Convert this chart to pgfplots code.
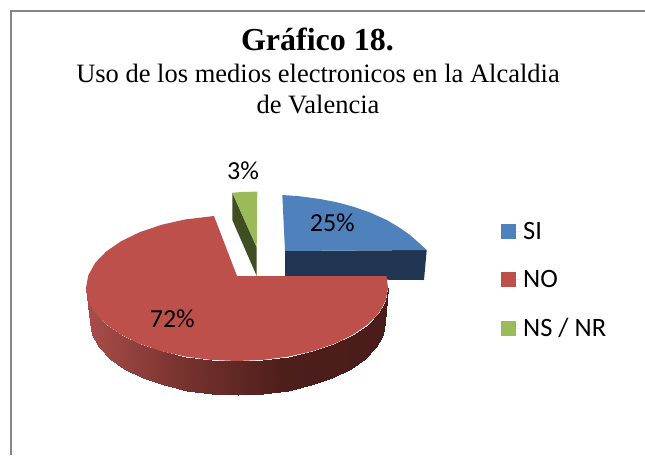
\documentclass[border=0pt]{standalone}
\usepackage{pgfplots}
\pgfplotsset{compat=1.18}
\usepackage{fontspec}
\setmainfont{Liberation Serif}
\newfontfamily\calf{Carlito}
\definecolor{cblue}{HTML}{4F81BD}
\definecolor{cbluedk}{HTML}{1F3552}
\definecolor{cred}{HTML}{BE504C}
\definecolor{cgreen}{HTML}{9BBB59}
\definecolor{cgreendk}{HTML}{3F4F22}
\definecolor{cframe}{HTML}{868686}
\pgfplotsset{
  colormap={side}{rgb255(0cm)=(170,78,74) rgb255(3cm)=(122,52,48) rgb255(6.5cm)=(78,30,27) rgb255(10cm)=(74,28,26)},
  sq/.style={legend image code/.code={\path (0pt,0pt) -- (20pt,0pt); \fill[##1] (0pt,-7.5pt) rectangle (15pt,7.5pt);}}
}
\begin{document}
\begin{tikzpicture}
\path[use as bounding box] (0,0) rectangle (645pt,455pt);
\begin{axis}[
  at={(0,0)}, anchor=south west,
  scale only axis, width=645pt, height=455pt,
  xmin=0, xmax=645, ymin=0, ymax=455, y dir=reverse,
  axis lines=none, clip=true,
  legend style={draw=none, fill=none, at={(axis cs:501,220)}, anchor=north west, inner xsep=0pt, inner ysep=0pt,
    font=\calf\fontsize{26.5}{26.5}\selectfont, row sep=25.5pt},
  legend cell align=left,
]
% frame
\addplot[cframe, line width=2pt, forget plot] coordinates {(11,455)(11,10.8)(645,10.8)};
% blue slice
\addplot[fill=cbluedk, draw=none, forget plot] coordinates {(285,251)(426.7,250)(424,280)(285,279)} -- cycle;
\addplot[fill=cblue, draw=none, sq] coordinates {(285,251)(282.3,195)(300,196.3)(320,199)(337,202.3)(353.3,206.7)(370,212.5)(386.7,220)(400,228)(410,235)(419,243)(426.7,250)} -- cycle;
% red side
\addplot[surf, shader=interp, mesh/rows=2, point meta=x, colormap name=side, point meta min=86, point meta max=388, forget plot] table {
86 288
88.3 300.7
95.1 313
106.2 324.5
121.3 334.9
139.9 343.9
161.5 351.2
185.4 356.6
210.7 359.9
237 361
263.3 359.9
288.6 356.6
312.5 351.2
334.1 343.9
352.7 334.9
367.8 324.5
378.9 313
385.7 300.7
388 288
90 322
92.2 334.7
98.8 347
109.8 358.5
124.5 368.9
142.7 377.9
163.7 385.2
187.1 390.6
211.8 393.9
237.5 395
263.2 393.9
287.9 390.6
311.3 385.2
332.3 377.9
350.5 368.9
365.2 358.5
376.2 347
382.8 334.7
385 322
};
% red top
\addplot[fill=cred, draw=none, sq] coordinates {(237,276)(214,216)(185.4,219.4)(161.5,224.8)(139.9,232.1)(121.3,241.1)(106.2,251.5)(95.1,263)(88.3,275.3)(86,288)(88.3,300.7)(95.1,313)(106.2,324.5)(121.3,334.9)(139.9,343.9)(161.5,351.2)(185.4,356.6)(210.7,359.9)(237,361)(263.3,359.9)(288.6,356.6)(312.5,351.2)(334.1,343.9)(352.7,334.9)(367.8,324.5)(378.9,313)(385.7,300.7)(388,288)(386.5,276)} -- cycle;
% green slice
\addplot[fill=cgreendk, draw=none, forget plot] coordinates {(232.3,192.7)(256.7,247.3)(256.7,276)(232.3,220)} -- cycle;
\addplot[fill=cgreen, draw=none, sq] coordinates {(232.3,192.7)(245,191.8)(257.3,191.7)(256.7,247.3)} -- cycle;
\legend{SI,NO,NS / NR}
% labels
\node[anchor=center, font=\calf\fontsize{26}{26}\selectfont] at (axis cs:332.3,222.7) {25\%};
\node[anchor=center, font=\calf\fontsize{26}{26}\selectfont] at (axis cs:172.3,318.3) {72\%};
\node[anchor=center, font=\calf\fontsize{26}{26}\selectfont] at (axis cs:243,171) {3\%};
\node[anchor=base, font=\bfseries\fontsize{32}{32}\selectfont] at (axis cs:317.5,50) {Gráfico 18.};
\node[anchor=base, font=\fontsize{26.5}{26.5}\selectfont] at (axis cs:318,82) {Uso de los medios electronicos en la Alcaldia};
\node[anchor=base, font=\fontsize{26.5}{26.5}\selectfont] at (axis cs:318,113) {de Valencia};
\end{axis}
\end{tikzpicture}
\end{document}
